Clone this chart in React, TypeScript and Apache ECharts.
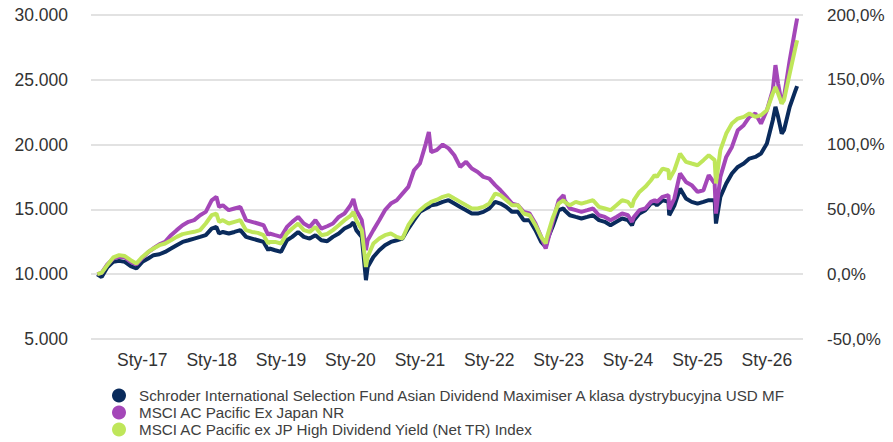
import React, { useEffect, useRef } from "react";
import * as echarts from "echarts";

const dates: string[] = [
  "2016-05-09","2016-06-01","2016-07-01","2016-08-01","2016-09-01","2016-10-01","2016-11-01","2016-12-01",
  "2017-01-01","2017-02-01","2017-03-01","2017-04-01","2017-05-01","2017-06-01","2017-07-01","2017-08-01","2017-09-01","2017-10-01","2017-11-01","2017-12-01",
  "2018-01-01","2018-01-26","2018-02-09","2018-03-01","2018-04-01","2018-05-01","2018-06-01","2018-07-01","2018-08-01","2018-09-01","2018-10-01","2018-10-26","2018-11-01","2018-12-01",
  "2019-01-01","2019-02-01","2019-03-01","2019-04-01","2019-05-01","2019-06-01","2019-07-01","2019-08-01","2019-09-01","2019-10-01","2019-11-01","2019-12-01",
  "2020-01-01","2020-01-17","2020-02-01","2020-03-01","2020-03-23","2020-04-01","2020-05-01","2020-06-01","2020-07-01","2020-08-01","2020-09-01","2020-10-01","2020-11-01","2020-12-01",
  "2021-01-01","2021-02-01","2021-02-17","2021-03-01","2021-04-01","2021-05-01","2021-06-01","2021-07-01","2021-08-01","2021-09-01","2021-10-01","2021-11-01","2021-12-01",
  "2022-01-01","2022-02-01","2022-03-01","2022-04-01","2022-05-01","2022-06-01","2022-07-01","2022-08-01","2022-09-01","2022-10-01","2022-10-25","2022-11-01","2022-12-01",
  "2023-01-01","2023-01-27","2023-02-01","2023-03-01","2023-04-01","2023-05-01","2023-06-01","2023-07-01","2023-08-01","2023-09-01","2023-10-01","2023-11-01","2023-12-01",
  "2024-01-01","2024-01-22","2024-02-01","2024-03-01","2024-04-01","2024-05-01","2024-05-20","2024-06-01","2024-07-01","2024-08-01","2024-08-05","2024-09-01","2024-10-01","2024-11-01","2024-12-01",
  "2025-01-01","2025-02-01","2025-03-01","2025-04-01","2025-04-08","2025-05-01","2025-06-01","2025-07-01","2025-08-01","2025-09-01","2025-10-01","2025-11-01","2025-12-01",
  "2026-01-01","2026-02-01","2026-02-15","2026-03-01","2026-03-20","2026-04-01","2026-05-01","2026-06-01","2026-06-09",
];

const fundValues: number[] = [
  10000,9780,10540,10950,11030,10950,10620,10440,
  10950,11210,11470,11540,11720,11980,12240,12490,12620,12750,12880,13010,
  13520,13650,13140,13260,13140,13260,13400,12880,12750,12620,12490,11850,11980,11850,
  11720,12620,12880,13260,12880,12750,13010,12620,12550,12880,13140,13520,
  13750,14000,13400,12880,9540,10560,11330,11850,12240,12490,12620,12750,13520,14170,
  14810,15070,15190,15320,15400,15580,15710,15450,15190,14940,14680,14680,14810,
  15070,15580,15450,15190,14810,14810,14170,14170,13400,12490,12110,12620,13700,
  14940,15070,14940,14550,14420,14300,14420,14550,14170,14040,13780,14040,14300,
  14170,13780,14170,14680,14940,15450,15500,15320,15710,15580,14550,15300,16610,15840,15580,
  15450,15580,15710,15710,13910,15970,17000,17770,18280,18540,18920,19050,19310,
  20080,21880,22910,22140,20850,21110,22910,24200,24510,
];

const pacificValues: number[] = [
  10000,10100,10750,11200,11350,11300,10950,10750,
  11250,11700,12000,12300,12500,13010,13400,13780,14040,14170,14550,14810,
  15700,15970,15190,15320,14940,15070,15190,14170,14040,13910,13780,13010,13140,13010,
  12880,13650,14040,14420,13910,13650,14170,13520,13700,13910,14420,14680,
  15300,15800,14940,14170,11850,12620,13400,14170,14940,15450,15710,16220,16740,18020,
  18540,20080,20980,19420,19600,20000,19710,19180,18280,18670,18150,17890,17510,
  17380,16870,16480,15970,15450,15320,14810,14680,13910,12880,11980,12370,14050,
  15700,16100,15710,15070,14940,14810,14940,15070,14550,14420,14170,14420,14680,
  14550,14040,14420,14940,15070,15580,15710,15580,15970,16100,15000,15840,17770,17120,16870,
  16350,16480,17640,17000,14680,17510,19050,19820,21110,21500,22140,22400,21620,
  22650,24200,26130,24710,23170,23680,26510,29080,29730,
];

const highDivValues: number[] = [
  10000,10100,10700,11290,11470,11400,11080,10830,
  11330,11720,11980,12240,12370,12620,12880,13090,13190,13270,13400,13910,
  14550,14680,14040,14170,13910,14040,14170,13400,13260,13190,13010,12370,12490,12490,
  12370,13140,13520,13910,13400,13260,13650,13010,13100,13400,13780,14170,
  14500,14800,14170,13400,10560,11330,12370,12750,13010,13140,12880,12750,13780,14420,
  14940,15320,15450,15580,15750,15970,16100,15840,15580,15320,15070,15070,15190,
  15450,16220,16100,15710,15320,15320,14680,14550,13780,12880,12370,12880,14350,
  15450,15710,15580,15320,15580,15450,15580,15710,15190,15070,14940,15320,15710,
  15580,15190,15710,16350,16740,17250,17640,17510,18150,18020,17300,18020,19300,18670,18540,
  18410,18800,19180,18800,17000,19570,20850,21620,22010,22140,22400,22140,22270,
  22650,23940,24450,23940,23170,23430,25480,27540,28050,
];

const seriesNames: string[] = [
  "Schroder International Selection Fund Asian Dividend Maximiser A klasa dystrybucyjna USD MF",
  "MSCI AC Pacific Ex Japan NR",
  "MSCI AC Pacific ex JP High Dividend Yield (Net TR) Index",
];
const seriesColors: string[] = ["#0a2b5c", "#a447b8", "#bfe65a"];
const labelYears: number[] = [2017, 2018, 2019, 2020, 2021, 2022, 2023, 2024, 2025, 2026];

const FONT = "Liberation Sans, Arial, Helvetica, sans-serif";

const ts = (d: string) => Date.UTC(+d.slice(0, 4), +d.slice(5, 7) - 1, +d.slice(8, 10));

function fmtThousands(v: number): string {
  const s = Math.round(v).toString();
  return s.replace(/\B(?=(\d{3})+(?!\d))/g, ".");
}

export default function App() {
  const ref = useRef<HTMLDivElement>(null);
  useEffect(() => {
    if (!ref.current) return;
    const chart = echarts.init(ref.current, undefined, { renderer: "svg" });
    const all = [fundValues, pacificValues, highDivValues];
    const series = all.map((vals, i) => ({
      name: seriesNames[i],
      type: "line",
      yAxisIndex: 0,
      showSymbol: false,
      symbol: "none",
      data: dates.map((d, j) => [ts(d), vals[j]]),
      lineStyle: { width: 4, color: seriesColors[i] },
      itemStyle: { color: seriesColors[i] },
      z: 2 + i,
    }));
    const tickVals = labelYears.map((y) => Date.UTC(y, 0, 1));
    chart.setOption({
      animation: false,
      grid: { left: 91, right: 90, top: 15, bottom: 103 },
      legend: {
        orient: "vertical",
        left: 112,
        top: 387,
        height: 60,
        icon: "circle",
        itemWidth: 30,
        itemHeight: 14,
        itemGap: 0,
        padding: 0,
        textStyle: { fontSize: 15.2, color: "#404040", fontFamily: FONT, lineHeight: 17 },
        data: seriesNames,
      },
      xAxis: {
        type: "value",
        min: ts("2016-04-06"),
        max: ts("2026-07-10"),
        axisLine: { show: false },
        axisTick: { show: false },
        splitLine: { show: false },
        axisLabel: {
          customValues: tickVals,
          margin: 12,
          fontSize: 17.5,
          color: "#333333",
          fontFamily: FONT,
          formatter: (v: number) => "Sty-" + String(new Date(v).getUTCFullYear()).slice(2),
        },
      },
      yAxis: [
        {
          type: "value",
          min: 5000,
          max: 30000,
          interval: 5000,
          axisLine: { show: false },
          axisTick: { show: false },
          splitLine: { show: true, lineStyle: { color: "#e2e2e2", width: 2 } },
          axisLabel: {
            margin: 23,
            fontSize: 17.5,
            color: "#333333",
            fontFamily: FONT,
            formatter: (v: number) => fmtThousands(v),
          },
        },
        {
          type: "value",
          min: -50,
          max: 200,
          interval: 50,
          position: "right",
          axisLine: { show: false },
          axisTick: { show: false },
          splitLine: { show: false },
          axisLabel: {
            margin: 24,
            fontSize: 17,
            color: "#333333",
            fontFamily: FONT,
            formatter: (v: number) => v.toFixed(1).replace(".", ",") + "%",
          },
        },
      ],
      series,
    });
    return () => chart.dispose();
  }, []);
  return (
    <div
      ref={ref}
      style={{ position: "fixed", left: 0, top: 0, width: 893, height: 442, background: "#ffffff" }}
    />
  );
}
